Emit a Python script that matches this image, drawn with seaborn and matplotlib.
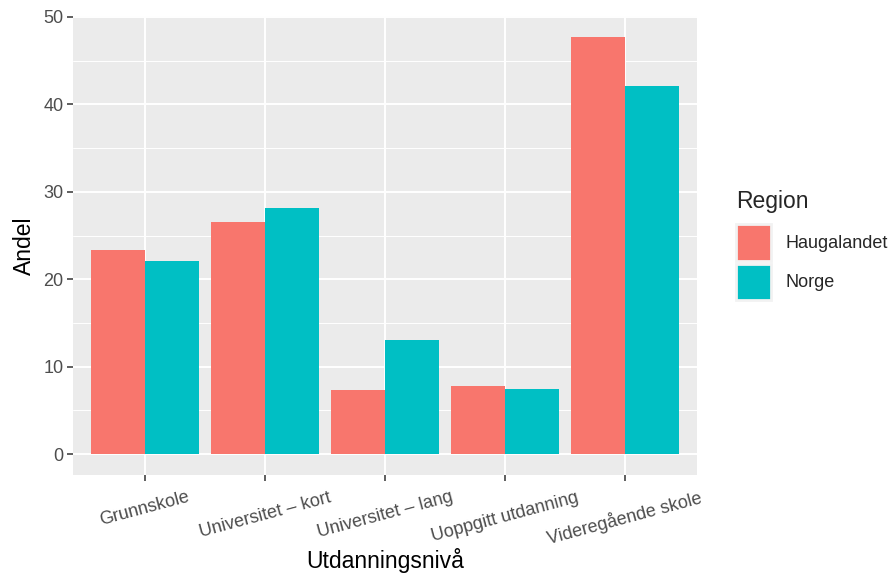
import pandas as pd
import numpy as np
import matplotlib
matplotlib.use("Agg")
import matplotlib.pyplot as plt
import seaborn as sns
from matplotlib.ticker import MultipleLocator
from matplotlib.patches import Patch

# --- DATA ---
levels = ['Grunnskole', 'Universitet \u2013 kort', 'Universitet \u2013 lang',
          'Uoppgitt utdanning', 'Videreg\u00e5ende skole']
regions = ['Haugalandet', 'Norge']
haugalandet = [23.3, 26.5, 7.3, 7.8, 47.7]
norge = [22.1, 28.2, 13.1, 7.4, 42.1]

# Colors (ggplot default hue)
COLORS = {'Haugalandet': '#F8766D', 'Norge': '#00BFC4'}
PANEL_BG = '#EBEBEB'
TICK_GREY = '#4D4D4D'

df = pd.DataFrame({
    'Utdanningsniv\u00e5': levels * 2,
    'Andel': haugalandet + norge,
    'Region': ['Haugalandet'] * len(levels) + ['Norge'] * len(levels),
})

sns.set_theme(style='darkgrid')
plt.rcParams['font.family'] = ['Liberation Sans', 'DejaVu Sans']

fig = plt.figure(figsize=(8.96, 5.74), dpi=100)
ax = fig.add_axes([73 / 896, 99 / 574, 624 / 896, 459 / 574])

sns.barplot(data=df, x='Utdanningsniv\u00e5', y='Andel', hue='Region',
            order=levels, hue_order=regions, palette=COLORS,
            width=0.9, gap=0, saturation=1, errorbar=None,
            linewidth=0, ax=ax, legend=False, zorder=3)

# panel styling like ggplot grey theme
ax.set_facecolor(PANEL_BG)
for s in ax.spines.values():
    s.set_visible(False)
ymax = max(haugalandet + norge)
ax.set_ylim(-0.05 * ymax, 50.1)
ax.set_xlim(-0.6, len(levels) - 0.4)
ax.yaxis.set_major_locator(MultipleLocator(10))
ax.yaxis.set_minor_locator(MultipleLocator(5))
ax.grid(which='major', color='white', linewidth=1.4, zorder=0)
ax.grid(which='minor', axis='y', color='white', linewidth=0.7, zorder=0)
ax.set_axisbelow(True)

ax.tick_params(axis='both', which='major', bottom=True, left=True,
               length=4, width=1.1, color='#333333',
               labelcolor=TICK_GREY, labelsize=13, pad=3, direction='out')
ax.tick_params(axis='both', which='minor', length=0)
ax.tick_params(axis='x', pad=6)
for lab in ax.get_xticklabels():
    lab.set_rotation(15)
    lab.set_ha('center')

ax.set_xlabel('Utdanningsniv\u00e5', fontsize=16.5, color='black', labelpad=0)
ax.set_ylabel('Andel', fontsize=16.5, color='black', labelpad=5)

# legend
handles = [Patch(facecolor=COLORS[r], edgecolor='#F2F2F2', linewidth=2) for r in regions]
leg = fig.legend(handles, regions, title='Region', loc='upper left',
                 bbox_to_anchor=(729 / 896, 1 - 183 / 574), frameon=False,
                 fontsize=13, title_fontsize=16.5, handlelength=1.95, handleheight=2.75,
                 handletextpad=0.8, labelspacing=0.15, borderaxespad=0)
leg._legend_box.align = 'left'
leg._legend_box.sep = 8

fig.savefig('out.png', dpi=100)
